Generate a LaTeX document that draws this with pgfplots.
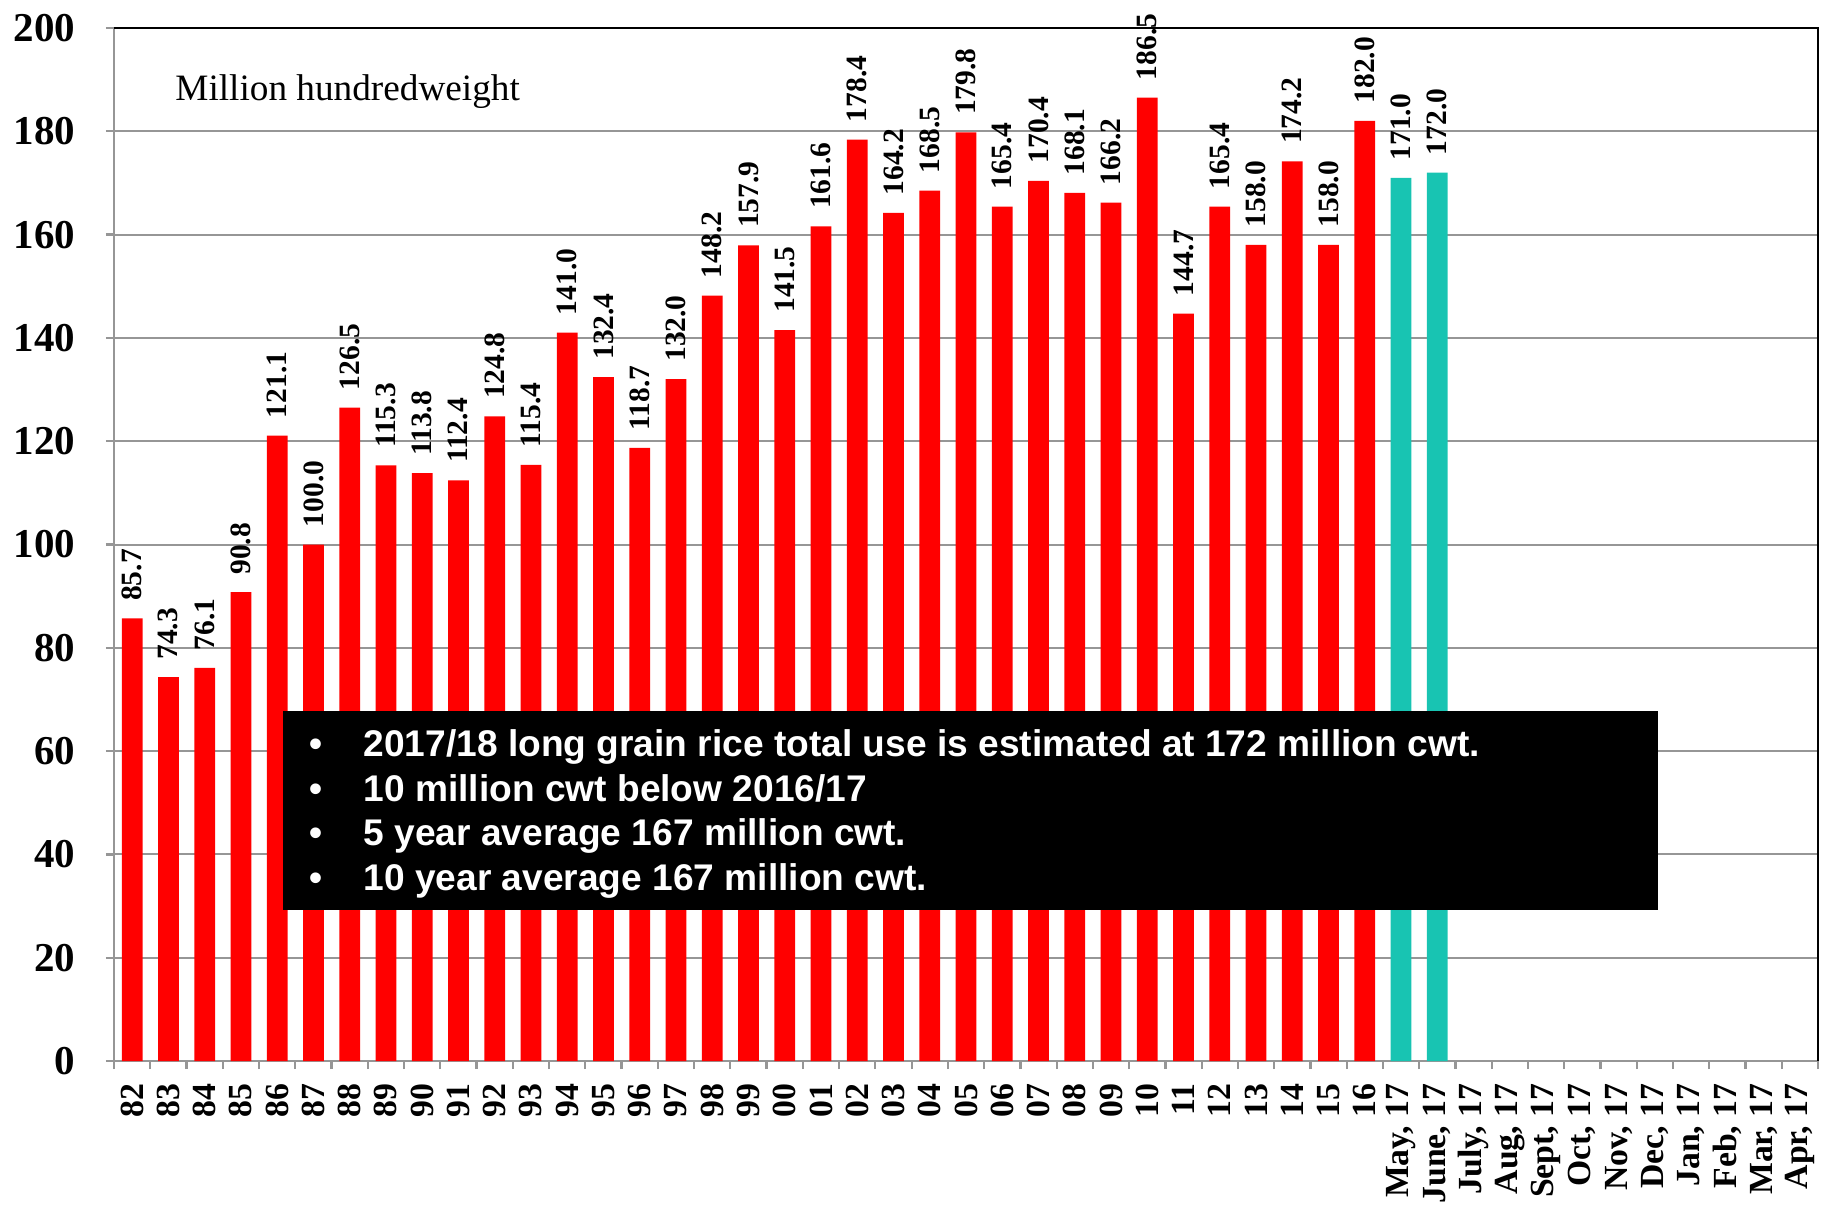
\documentclass[border=0pt]{standalone}
\usepackage{fontspec}
\setmainfont{Liberation Serif}
\newfontfamily\boxfont{Liberation Sans}
\usepackage{pgfplots}
\pgfplotsset{compat=1.18}
\definecolor{barred}{RGB}{255,0,0}
\definecolor{barteal}{RGB}{24,196,178}
\definecolor{gridgray}{RGB}{150,150,150}
\pgfplotstableread{
x y
0 85.7
1 74.3
2 76.1
3 90.8
4 121.1
5 100.0
6 126.5
7 115.3
8 113.8
9 112.4
10 124.8
11 115.4
12 141.0
13 132.4
14 118.7
15 132.0
16 148.2
17 157.9
18 141.5
19 161.6
20 178.4
21 164.2
22 168.5
23 179.8
24 165.4
25 170.4
26 168.1
27 166.2
28 186.5
29 144.7
30 165.4
31 158.0
32 174.2
33 158.0
34 182.0
}\histdata
\pgfplotstableread{
x y
35 171.0
36 172.0
}\curdata
\begin{document}
\begin{tikzpicture}
\begin{axis}[
  scale only axis, width=681.6pt, height=413.2pt,
  xmin=-0.5, xmax=46.5, ymin=0, ymax=200,
  ytick={0,20,...,200},
  xtick={0,...,46},
  xticklabels={82,83,84,85,86,87,88,89,90,91,92,93,94,95,96,97,98,99,00,01,02,03,04,05,06,07,08,09,10,11,12,13,14,15,16,{May, 17},{June, 17},{July, 17},{Aug, 17},{Sept, 17},{Oct, 17},{Nov, 17},{Dec, 17},{Jan, 17},{Feb, 17},{Mar, 17},{Apr, 17}},
  minor xtick={-0.5,0.5,...,46.5},
  tick align=outside,
  major tick length=3.2pt, minor tick length=3.2pt,
  major x tick style={draw=none},
  minor x tick style={gridgray, line width=0.9pt},
  y tick style={gridgray, line width=0.9pt},
  xtick pos=bottom, ytick pos=left,
  ymajorgrids, major grid style={gridgray, line width=0.8pt},
  axis line style={gridgray, line width=0.9pt},
  xticklabel style={rotate=90, anchor=east, inner sep=0pt, font=\fontsize{13.5}{14}\selectfont\bfseries},
  xticklabel shift=5.6pt,
  yticklabel style={anchor=east, inner sep=0pt, font=\fontsize{16.4}{17}\selectfont\bfseries},
  yticklabel shift=12pt,
  /pgf/number format/assume math mode=true,
  ybar, bar width=8.3pt, bar shift=0pt,
  clip=false,
  nodes near coords={\pgfmathprintnumber[fixed,fixed zerofill,precision=1,assume math mode=true]{\pgfplotspointmeta}},
  every node near coord/.append style={rotate=90, anchor=west, inner xsep=6.8pt, inner ysep=0pt, font=\fontsize{11.8}{12}\selectfont\bfseries, black},
]
\addplot[fill=barred, draw=none] table[x=x,y=y]{\histdata};
\addplot[fill=barteal, draw=none] table[x=x,y=y]{\curdata};
\draw[black, line width=0.9pt] (rel axis cs:0,1) -- (rel axis cs:1,1) -- (rel axis cs:1,0);
\node[anchor=base west, inner sep=0pt, font=\fontsize{14.9}{16}\selectfont] at (axis cs:1.18,185.9) {Million hundredweight};
\fill[black] (axis cs:4.16,29.33) rectangle (axis cs:42.09,67.67);
\node[anchor=base west, inner sep=0pt, white, font=\boxfont\fontsize{14.85}{16}\selectfont\bfseries] at (axis cs:4.88,58.86) {•};
\node[anchor=base west, inner sep=0pt, white, font=\boxfont\fontsize{14.85}{16}\selectfont\bfseries] at (axis cs:6.37,58.86) {2017/18 long grain rice total use is estimated at 172 million cwt.};
\node[anchor=base west, inner sep=0pt, white, font=\boxfont\fontsize{14.85}{16}\selectfont\bfseries] at (axis cs:4.88,50.24) {•};
\node[anchor=base west, inner sep=0pt, white, font=\boxfont\fontsize{14.85}{16}\selectfont\bfseries] at (axis cs:6.37,50.24) {10 million cwt below 2016/17};
\node[anchor=base west, inner sep=0pt, white, font=\boxfont\fontsize{14.85}{16}\selectfont\bfseries] at (axis cs:4.88,41.63) {•};
\node[anchor=base west, inner sep=0pt, white, font=\boxfont\fontsize{14.85}{16}\selectfont\bfseries] at (axis cs:6.37,41.63) {5 year average 167 million cwt.};
\node[anchor=base west, inner sep=0pt, white, font=\boxfont\fontsize{14.85}{16}\selectfont\bfseries] at (axis cs:4.88,33.01) {•};
\node[anchor=base west, inner sep=0pt, white, font=\boxfont\fontsize{14.85}{16}\selectfont\bfseries] at (axis cs:6.37,33.01) {10 year average 167 million cwt.};
\end{axis}
\pgfresetboundingbox
\path[use as bounding box] ([xshift=-45.6pt,yshift=-58.4pt]current axis.south west) rectangle ([xshift=3.2pt,yshift=11.2pt]current axis.north east);
\end{tikzpicture}
\end{document}
